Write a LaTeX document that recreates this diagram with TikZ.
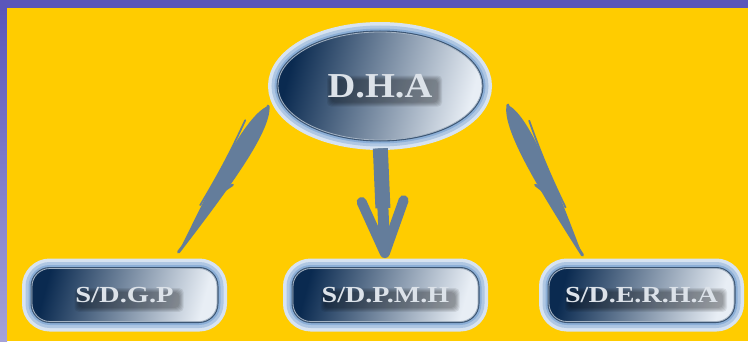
\documentclass[tikz,border=0pt]{standalone}
\usepackage{fontspec}
\setmainfont{Liberation Serif}
\usepackage{graphicx}
\usetikzlibrary{arrows.meta,shapes.geometric,calc}
\definecolor{dhaframe}{RGB}{91,86,186}
\definecolor{dhayellow}{RGB}{255,204,0}
\definecolor{dhanavy}{RGB}{10,42,80}
\definecolor{dhapale}{RGB}{232,238,245}
\definecolor{dhaglow}{RGB}{140,175,215}
\definecolor{dhaarrow}{RGB}{100,125,155}

\begin{document}
\begin{tikzpicture}[x=1pt, y=1pt,
  glow/.style={preaction={draw=dhaglow!35, line width=20},
               preaction={draw=dhaglow!70, line width=13},
               preaction={draw=dhaglow, line width=7},
               preaction={draw=dhanavy!80, line width=3}},
  bluefill/.style={glow, left color=dhanavy, right color=dhapale,
               middle color=dhanavy!50!dhapale, shading angle=75,
               draw=dhapale!70!dhanavy, line width=0.8, text=dhapale!95!black},
  textshadow/.style 2 args={path picture={
     \foreach \g in {0,1,2,3,4}
       \fill[black, opacity=0.08, rounded corners=4]
         ($(path picture bounding box.center)+(-#1/2+4-\g,-#2-5-\g)$) rectangle
         ($(path picture bounding box.center)+(#1/2+5+\g,#2-5+\g)$);}},
  headoval/.style={ellipse, bluefill, minimum width=204, minimum height=108,
               inner sep=0, font=\bfseries\fontsize{35}{35}\selectfont},
  unitbox/.style={rectangle, rounded corners=18, bluefill, minimum width=185,
               minimum height=53, inner sep=0, font=\bfseries\fontsize{23}{23}\selectfont},
  quill/.style={dhaarrow, line cap=round, line join=round}]
\useasboundingbox (0,0) rectangle (748,341);
% frame and yellow field
\fill[dhaframe] (0,0) rectangle (748,341);
\shade[top color=dhaframe, bottom color=dhaframe!55!white] (0,0) rectangle (7,333);
\fill[dhayellow] (7,0) rectangle (748,333);

% boxes
\node[headoval, textshadow={106}{11.5}] (dha) at (380,255) {\scalebox{1.1}[1]{D.H.A}};
\node[unitbox, textshadow={100}{7.8}] (sdgp) at (124.5,46) {\scalebox{1.24}[1]{S/D.G.P}};
\node[unitbox, textshadow={130}{7.8}] (sdpmh) at (385.5,46) {\scalebox{1.22}[1]{S/D.P.M.H}};
\node[unitbox, textshadow={153}{7.8}] (sderha) at (641.5,46) {\scalebox{1.22}[1]{S/D.E.R.H.A}};

% ends of the feather arrows
\coordinate (lstart) at ($(dha.center)+(-112,-20)$);
\coordinate (lend) at ($(sdgp.north)+(54,16)$);
\coordinate (rstart) at ($(dha.center)+(128,-19)$);
\coordinate (rend) at ($(sderha.north)+(-59,13)$);

% left feather
\coordinate (la) at ($(lstart)!0.12!(lend)!15pt!90:(lend)$);
\coordinate (lb) at ($(lstart)!0.55!(lend)!8pt!90:(lend)$);
\coordinate (lc) at ($(lstart)!0.55!(lend)!-7pt!90:(lend)$);
\coordinate (ld) at ($(lstart)!0.12!(lend)!-15pt!90:(lend)$);
\fill[quill] (lstart) .. controls (la) and (lb) .. (lend) .. controls (lc) and (ld) .. cycle;
\draw[quill, line width=3] (lstart) .. controls (la) and (lb) .. (lend);
\draw[quill, line width=1.8] ($(lstart)!0.14!(lend)!-12pt!90:(lend)$)
  to[bend left=3] ($(lstart)!0.7!(lend)!-6pt!90:(lend)$);
\draw[quill, line width=2.5] ($(lstart)!0.6!(lend)!3pt!90:(lend)$)
  -- ($(lstart)!0.5!(lend)!11pt!90:(lend)$);
% right feather
\coordinate (ra) at ($(rstart)!0.12!(rend)!-15pt!90:(rend)$);
\coordinate (rb) at ($(rstart)!0.55!(rend)!-8pt!90:(rend)$);
\coordinate (rc) at ($(rstart)!0.55!(rend)!7pt!90:(rend)$);
\coordinate (rd) at ($(rstart)!0.12!(rend)!15pt!90:(rend)$);
\fill[quill] (rstart) .. controls (ra) and (rb) .. (rend) .. controls (rc) and (rd) .. cycle;
\draw[quill, line width=3] (rstart) .. controls (ra) and (rb) .. (rend);
\draw[quill, line width=1.8] ($(rstart)!0.14!(rend)!12pt!90:(rend)$)
  to[bend right=3] ($(rstart)!0.7!(rend)!6pt!90:(rend)$);
\draw[quill, line width=2.5] ($(rstart)!0.6!(rend)!-3pt!90:(rend)$)
  -- ($(rstart)!0.5!(rend)!-11pt!90:(rend)$);
% middle arrow
\draw[quill, line width=15, line cap=butt, shorten <=8, shorten >=60] (dha.south) -- (sdpmh.north);
\draw[quill, line width=11, line cap=butt, shorten <=8, shorten >=10,
  -{Straight Barb[length=52pt, width=42pt, line width=10pt, round]}] (dha.south) -- (sdpmh.north);
\end{tikzpicture}
\end{document}
